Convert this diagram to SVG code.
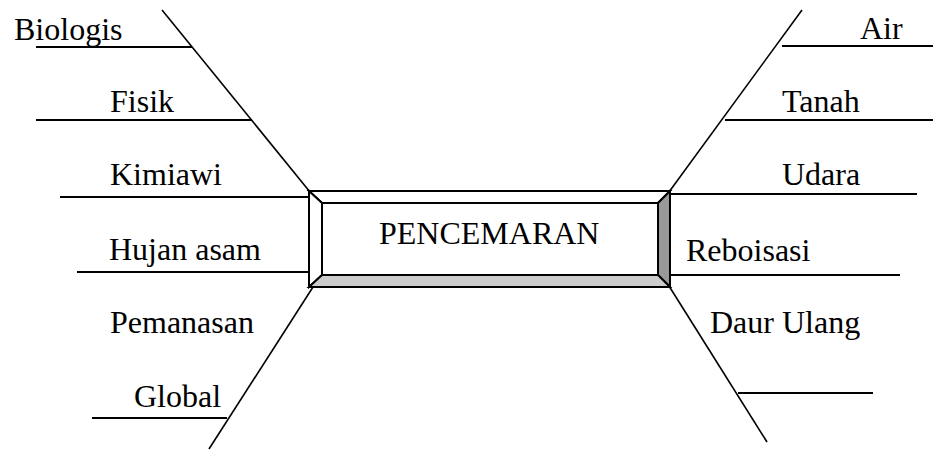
<svg xmlns="http://www.w3.org/2000/svg" width="933" height="450" viewBox="0 0 933 450" font-family="'Liberation Serif', 'Times New Roman', 'DejaVu Serif', serif">
<style>
.ln{stroke:#000;stroke-width:2;fill:none}
.dg{stroke:#000;stroke-width:1.6;fill:none}
.t{font-family:'Liberation Serif','Times New Roman','DejaVu Serif',serif;font-size:32px;fill:#000}
.bv{stroke:#000;stroke-width:2;stroke-linejoin:miter}
</style>
<rect width="933" height="450" fill="#fff"/>
<g id="connectors">
<line class="dg" x1="162" y1="10" x2="310" y2="192"/>
<line class="dg" x1="313" y1="287" x2="209" y2="449"/>
<line class="dg" x1="802" y1="10" x2="669" y2="192"/>
<line class="dg" x1="669" y1="286" x2="767" y2="442"/>
<line class="ln" x1="36" y1="47" x2="192" y2="47"/>
<line class="ln" x1="36" y1="120" x2="252" y2="120"/>
<line class="ln" x1="60" y1="197" x2="309" y2="197"/>
<line class="ln" x1="77" y1="272" x2="309" y2="272"/>
<line class="ln" x1="92" y1="418" x2="227" y2="418"/>
<line class="ln" x1="782" y1="46" x2="933" y2="46"/>
<line class="ln" x1="725" y1="120" x2="933" y2="120"/>
<line class="ln" x1="670" y1="194" x2="917" y2="194"/>
<line class="ln" x1="670" y1="275" x2="900" y2="275"/>
<line class="ln" x1="738" y1="393" x2="873" y2="393"/>
</g>
<g id="center">
<polygon class="bv" fill="#fff" points="309,191 670,191 658,203 322,203"/>
<polygon class="bv" fill="#fff" points="309,191 322,203 322,275 309,287"/>
<polygon class="bv" fill="#999" points="670,191 670,287 658,275 658,203"/>
<polygon class="bv" fill="#ccc" points="309,287 322,275 658,275 670,287"/>
<rect class="bv" fill="#fff" x="322" y="203" width="336" height="72"/>
<text class="t" x="379" y="244">PENCEMARAN</text>
</g>
<g id="biologis"><text class="t" x="14" y="40">Biologis</text></g>
<g id="fisik"><text class="t" x="110" y="112">Fisik</text></g>
<g id="kimiawi"><text class="t" x="110" y="185">Kimiawi</text></g>
<g id="hujan-asam"><text class="t" x="109" y="260">Hujan asam</text></g>
<g id="pemanasan"><text class="t" x="110" y="333">Pemanasan</text></g>
<g id="global"><text class="t" x="134" y="407">Global</text></g>
<g id="air"><text class="t" x="860" y="39">Air</text></g>
<g id="tanah"><text class="t" x="782" y="112">Tanah</text></g>
<g id="udara"><text class="t" x="782" y="185">Udara</text></g>
<g id="reboisasi"><text class="t" x="686" y="261">Reboisasi</text></g>
<g id="daur-ulang"><text class="t" x="710" y="333">Daur Ulang</text></g>
</svg>
